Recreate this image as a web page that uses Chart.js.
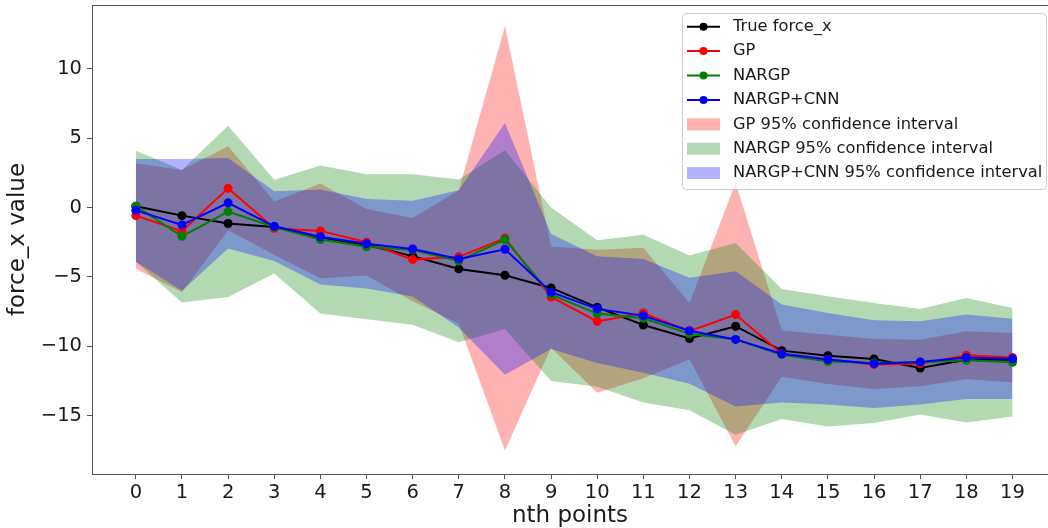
<!DOCTYPE html>
<html>
<head>
<meta charset="utf-8">
<script src="https://cdn.jsdelivr.net/npm/chart.js@4.4.1/dist/chart.umd.min.js"></script>
<style>
  html, body { margin: 0; padding: 0; background: #fff; overflow: hidden; }
  #wrap { width: 1048px; height: 528px; position: relative; }
</style>
</head>
<body>
<div id="wrap"><canvas id="forceChart"></canvas></div>
<script>
// nth point index on the x axis
const points = [0, 1, 2, 3, 4, 5, 6, 7, 8, 9, 10, 11, 12, 13, 14, 15, 16, 17, 18, 19];
const yTicks = [-15, -10, -5, 0, 5, 10];

const trueForce = [0.1, -0.58, -1.15, -1.4, -2.15, -2.7, -3.5, -4.42, -4.88, -5.79,
  -7.19, -8.46, -9.44, -8.55, -10.31, -10.67, -10.91, -11.56, -10.96, -10.96];

const gpMean = [-0.58, -1.7, 1.39, -1.49, -1.68, -2.5, -3.75, -3.55, -2.2, -6.44,
  -8.2, -7.6, -8.9, -7.71, -10.53, -10.94, -11.3, -11.25, -10.65, -10.8];
const gpUpper = [3.2, 2.7, 4.42, 0.43, 1.73, -0.1, -0.75, 1.25, 13.07, -2.8,
  -3.03, -2.9, -6.87, 1.78, -8.85, -9.16, -9.47, -9.52, -8.92, -9.04];
const gpLower = [-4.4, -6.1, -1.64, -3.4, -5.09, -4.9, -6.75, -8.35, -17.5, -10.1,
  -13.35, -12.3, -10.93, -17.2, -12.2, -12.71, -13.07, -12.88, -12.35, -12.6];

const nargpMean = [0.1, -2.07, -0.29, -1.4, -2.3, -2.83, -3.05, -3.85, -2.3, -6.27,
  -7.64, -7.98, -9.1, -9.5, -10.6, -11.1, -11.2, -11.15, -11.0, -11.15];
const nargpUpper = [4.1, 2.7, 5.9, 2.0, 3.03, 2.4, 2.4, 2.02, 4.13, 0.0,
  -2.36, -1.95, -3.46, -2.55, -5.86, -6.39, -6.87, -7.3, -6.51, -7.23];
const nargpLower = [-3.9, -6.84, -6.45, -4.75, -7.63, -8.05, -8.45, -9.7, -8.75, -12.5,
  -12.92, -14.05, -14.6, -16.37, -15.23, -15.77, -15.52, -14.92, -15.48, -15.05];

const cnnMean = [-0.2, -1.25, 0.34, -1.35, -2.1, -2.6, -2.98, -3.7, -3.0, -6.1,
  -7.3, -7.79, -8.87, -9.5, -10.53, -10.95, -11.25, -11.13, -10.8, -10.9];
const cnnUpper = [3.5, 3.5, 3.58, 1.18, 1.3, 0.62, 0.5, 1.25, 6.1, -1.9,
  -3.5, -3.7, -5.05, -4.59, -6.99, -7.59, -8.12, -8.19, -7.71, -8.02];
const cnnLower = [-3.9, -6.0, -2.95, -3.85, -5.55, -5.84, -6.4, -8.65, -12.05, -10.2,
  -11.2, -11.9, -12.7, -14.33, -14.04, -14.2, -14.44, -14.2, -13.79, -13.79];

const FONT = "'DejaVu Sans', sans-serif";
const TEXT = "#1a1a1a";
const AXIS = "#555555";

const xy = (vals) => vals.map((v, i) => ({ x: points[i], y: v }));

function meanLine(label, vals, color, order) {
  return {
    label: label,
    data: xy(vals),
    borderColor: color,
    backgroundColor: color,
    borderWidth: 2,
    pointRadius: 4.5,
    pointBorderWidth: 0,
    pointBackgroundColor: color,
    fill: false,
    tension: 0,
    order: order,
  };
}

// upper edge fills down to the lower edge that follows it
function band(label, upper, lower, color, order) {
  const edge = {
    borderColor: "transparent",
    borderWidth: 0,
    pointRadius: 0,
    tension: 0,
    order: order,
  };
  return [
    Object.assign({ label: label, data: xy(upper), backgroundColor: color, fill: "+1" }, edge),
    Object.assign({ label: "", data: xy(lower), backgroundColor: color, fill: false }, edge),
  ];
}

const minusFmt = (v) => (v < 0 ? "\u2212" + Math.abs(v) : String(v));

// top spine + matplotlib style legend
const framePlugin = {
  id: "frame",
  afterDraw(chart) {
    const { ctx, chartArea } = chart;
    ctx.save();
    ctx.strokeStyle = AXIS;
    ctx.lineWidth = 1;
    ctx.beginPath();
    ctx.moveTo(chartArea.left, chartArea.top + 0.5);
    ctx.lineTo(chartArea.right, chartArea.top + 0.5);
    ctx.stroke();

    const entries = chart.data.datasets.filter((d) => d.label);
    const boxX = chartArea.right - 366;
    const boxY = 13;
    const boxW = 364;
    const rowH = 24.4;
    const boxH = 176;

    ctx.beginPath();
    ctx.roundRect(boxX + 0.5, boxY + 0.5, boxW, boxH, 4);
    ctx.fillStyle = "rgba(255,255,255,0.8)";
    ctx.fill();
    ctx.strokeStyle = "#cccccc";
    ctx.stroke();

    ctx.font = "16.3px " + FONT;
    ctx.textBaseline = "middle";
    ctx.textAlign = "left";
    entries.forEach((d, i) => {
      const cy = boxY + 13.7 + i * rowH;
      const hx = boxX + 5;
      if (d.fill) {
        ctx.fillStyle = d.backgroundColor;
        ctx.fillRect(hx, cy - 6, 33, 12);
      } else {
        ctx.strokeStyle = d.borderColor;
        ctx.lineWidth = 2;
        ctx.beginPath();
        ctx.moveTo(hx, cy);
        ctx.lineTo(hx + 33, cy);
        ctx.stroke();
        ctx.fillStyle = d.borderColor;
        ctx.beginPath();
        ctx.arc(hx + 16.5, cy, 4, 0, Math.PI * 2);
        ctx.fill();
      }
      ctx.fillStyle = TEXT;
      ctx.fillText(d.label, boxX + 51, cy);
    });
    ctx.restore();
  },
};

function zeroPadding(scale) {
  scale.paddingTop = 0;
  scale.paddingBottom = 0;
  scale.paddingLeft = 0;
  scale.paddingRight = 0;
}

new Chart(document.getElementById("forceChart"), {
  type: "line",
  data: {
    datasets: [
      meanLine("True force_x", trueForce, "#000000", 3),
      meanLine("GP", gpMean, "#ff0000", 2),
      meanLine("NARGP", nargpMean, "#008000", 1),
      meanLine("NARGP+CNN", cnnMean, "#0000ff", 0),
      ...band("GP 95% confidence interval", gpUpper, gpLower, "rgba(255,0,0,0.3)", 6),
      ...band("NARGP 95% confidence interval", nargpUpper, nargpLower, "rgba(0,128,0,0.3)", 5),
      ...band("NARGP+CNN 95% confidence interval", cnnUpper, cnnLower, "rgba(0,0,255,0.3)", 4),
    ],
  },
  options: {
    responsive: true,
    maintainAspectRatio: false,
    animation: false,
    layout: { autoPadding: false, padding: { top: 5, right: 0, bottom: 0, left: 0 } },
    plugins: {
      legend: { display: false },
      tooltip: { enabled: false },
    },
    scales: {
      x: {
        type: "linear",
        min: -0.95,
        max: 19.77,
        bounds: "data",
        afterBuildTicks: (scale) => {
          scale.ticks = points.map((v) => ({ value: v }));
        },
        afterFit: (scale) => {
          scale.height = 54;
          zeroPadding(scale);
        },
        grid: { drawOnChartArea: false, drawTicks: true, tickLength: 5, color: AXIS },
        border: { display: true, color: AXIS, width: 1 },
        ticks: {
          color: TEXT,
          padding: 2,
          maxRotation: 0,
          autoSkip: false,
          font: { family: FONT, size: 19.5 },
          callback: (v) => String(v),
        },
        title: {
          display: true,
          text: "nth points",
          color: TEXT,
          font: { family: FONT, size: 23, lineHeight: 1 },
          padding: { top: 0, bottom: 0 },
        },
      },
      y: {
        type: "linear",
        min: -19.2,
        max: 14.6,
        bounds: "data",
        afterBuildTicks: (scale) => {
          scale.ticks = yTicks.map((v) => ({ value: v }));
        },
        afterFit: (scale) => {
          scale.width = 92;
          zeroPadding(scale);
        },
        grid: { drawOnChartArea: false, drawTicks: true, tickLength: 5, color: AXIS },
        border: { display: true, color: AXIS, width: 1 },
        ticks: {
          color: TEXT,
          padding: 5,
          font: { family: FONT, size: 19.5 },
          callback: (v) => minusFmt(v),
        },
        title: {
          display: true,
          text: "force_x value",
          color: TEXT,
          font: { family: FONT, size: 23, lineHeight: 1 },
          padding: { top: 7, bottom: 0 },
        },
      },
    },
  },
  plugins: [framePlugin],
});
</script>
</body>
</html>
